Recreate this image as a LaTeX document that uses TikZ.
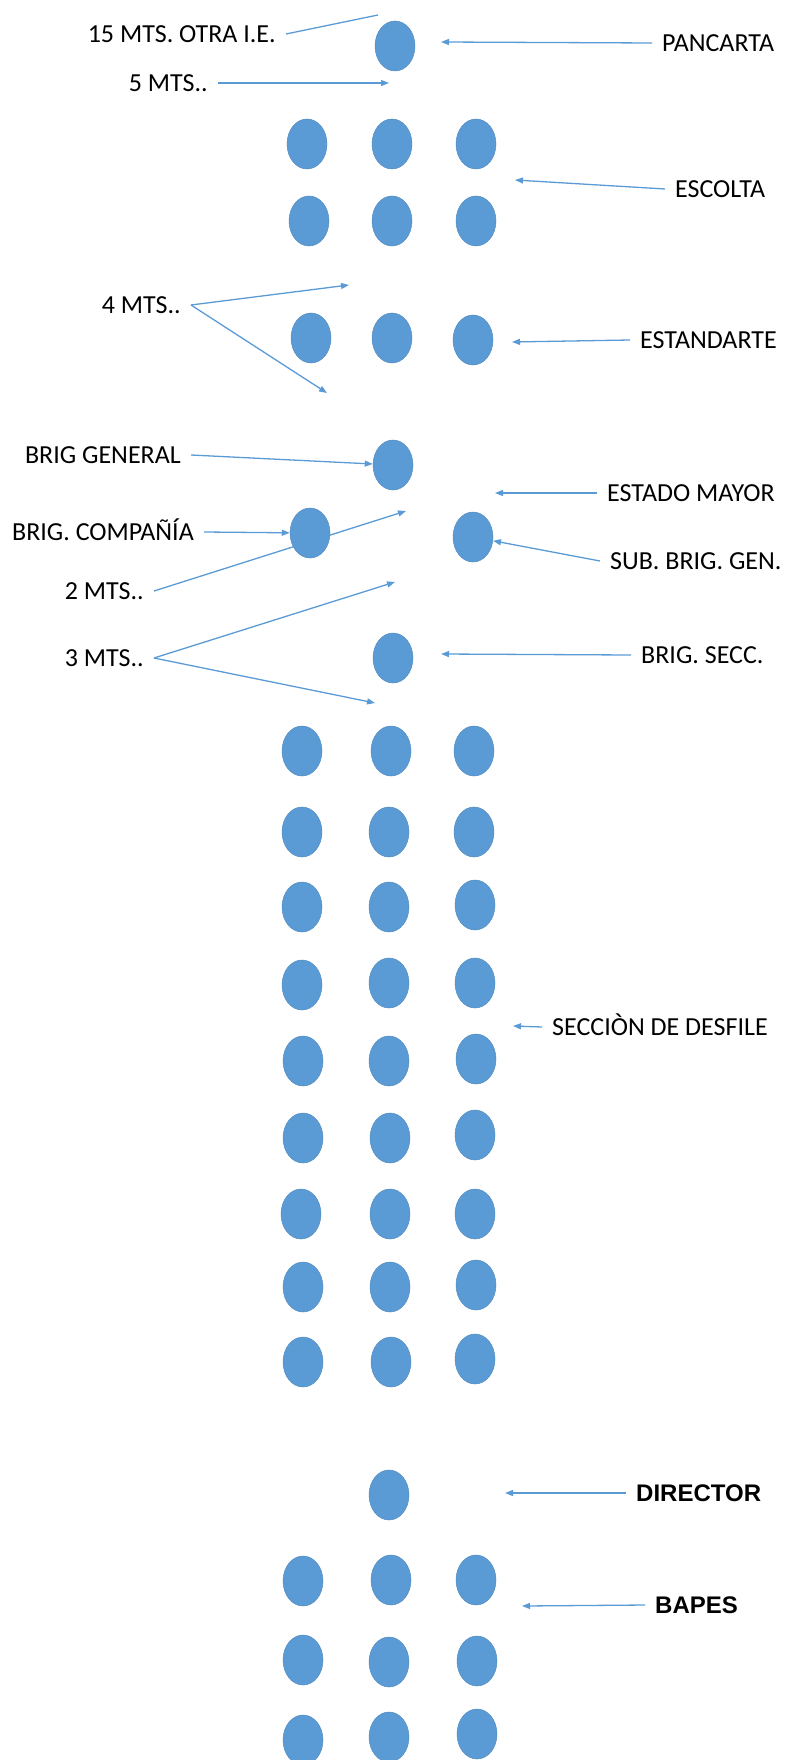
\documentclass[tikz,border=0pt]{standalone}
\usepackage{fontspec}
\setmainfont{Carlito}
\newfontfamily\arialfont{Liberation Sans}
\usetikzlibrary{shapes.geometric,arrows.meta}
\definecolor{dotblue}{HTML}{5B9BD5}
\definecolor{dotline}{HTML}{5B9BD5}
\pgfdeclarelayer{back}
\pgfsetlayers{back,main}

\begin{document}
\begin{tikzpicture}[x=1pt,y=-1pt,
	dot/.style={ellipse,fill=dotblue,draw=dotblue!90!black,line width=0.5pt,
		minimum width=40pt,minimum height=50pt,inner sep=0pt},
	lbl/.style={font=\fontsize{26}{30}\selectfont,text height=16.7pt,text depth=0pt,
		inner ysep=0pt,inner xsep=10pt},
	boldlbl/.style={lbl,font=\arialfont\bfseries\fontsize{24}{30}\selectfont,text height=17pt},
	ptr/.style={color=dotline,line width=1.3pt,-{Triangle[length=8pt,width=6pt]}},
	tie/.style={color=dotline,line width=1.3pt}]

	\useasboundingbox (0,0) rectangle (786,1760);

		% cabeza de la columna
		\node[dot] (pan) at (395,46) {};
		\node[dot] (es1a) at (307,144) {};
		\node[dot] (es1b) at (392,144) {};
		\node[dot] (es1c) at (476,144) {};
		\node[dot] (es2a) at (309,221) {};
		\node[dot] (es2b) at (392,221) {};
		\node[dot] (es2c) at (476,221) {};
		\node[dot] (st1) at (311,338) {};
		\node[dot] (st2) at (392,338) {};
		\node[dot] (st3) at (473,340) {};
		\node[dot] (bg) at (393,465) {};
		\node[dot] (bc) at (310,533) {};
		\node[dot] (sb) at (473,537) {};
		\node[dot] (bs) at (393,658) {};

		% seccion de desfile
		\node[dot] (s1a) at (302,751) {};  \node[dot] (s1b) at (391,751) {};  \node[dot] (s1c) at (474,751) {};
		\node[dot] (s2a) at (302,832) {};  \node[dot] (s2b) at (389,832) {};  \node[dot] (s2c) at (474,832) {};
		\node[dot] (s3a) at (302,907) {};  \node[dot] (s3b) at (389,907) {};  \node[dot] (s3c) at (475,905) {};
		\node[dot] (s4a) at (302,985) {};  \node[dot] (s4b) at (389,983) {};  \node[dot] (s4c) at (475,983) {};
		\node[dot] (s5a) at (303,1061) {}; \node[dot] (s5b) at (389,1061) {}; \node[dot] (s5c) at (476,1059) {};
		\node[dot] (s6a) at (303,1138) {}; \node[dot] (s6b) at (390,1138) {}; \node[dot] (s6c) at (475,1135) {};
		\node[dot] (s7a) at (301,1214) {}; \node[dot] (s7b) at (390,1214) {}; \node[dot] (s7c) at (475,1214) {};
		\node[dot] (s8a) at (303,1287) {}; \node[dot] (s8b) at (390,1287) {}; \node[dot] (s8c) at (476,1285) {};
		\node[dot] (s9a) at (303,1362) {}; \node[dot] (s9b) at (391,1362) {}; \node[dot] (s9c) at (475,1359) {};

		% director y bapes
		\node[dot] (dir) at (389,1495) {};
		\node[dot] (b1a) at (303,1581) {}; \node[dot] (b1b) at (391,1580) {}; \node[dot] (b1c) at (476,1580) {};
		\node[dot] (b2a) at (303,1660) {}; \node[dot] (b2b) at (389,1662) {}; \node[dot] (b2c) at (477,1661) {};
		\node[dot] (b3a) at (303,1740) {}; \node[dot] (b3b) at (389,1737) {}; \node[dot] (b3c) at (477,1734) {};

		% textos
		\node[lbl,anchor=east] (m15) at (286,34) {15 MTS. OTRA I.E.};
		\node[lbl,anchor=east] (m5) at (218,83) {5 MTS..};
		\node[lbl,anchor=east] (m4) at (191,305) {4 MTS..};
		\node[lbl,anchor=east] (lbg) at (191,455) {BRIG GENERAL};
		\node[lbl,anchor=east] (lbc) at (204,532) {BRIG. COMPAÑÍA};
		\node[lbl,anchor=east] (m2) at (154,591) {2 MTS..};
		\node[lbl,anchor=east] (m3) at (154,658) {3 MTS..};
		\node[lbl,anchor=west] (lpan) at (652,43) {PANCARTA};
		\node[lbl,anchor=west] (les) at (665,189) {ESCOLTA};
		\node[lbl,anchor=west] (lst) at (630,340) {ESTANDARTE};
		\node[lbl,anchor=west] (lem) at (597,493) {ESTADO MAYOR};
		\node[lbl,anchor=west] (lsb) at (600,561) {SUB. BRIG. GEN.};
		\node[lbl,anchor=west] (lbs) at (631,655) {BRIG. SECC.};
		\node[lbl,anchor=west] (lsd) at (542,1027) {SECCIÒN DE DESFILE};
		\node[boldlbl,anchor=west] (ldir) at (626,1493) {DIRECTOR};
		\node[boldlbl,anchor=west] (lba) at (645,1605) {BAPES};

		% puntos sueltos
		\coordinate (t15) at (378,15);
		\coordinate (t5) at (389,83);
		\coordinate (tpan) at (441,42);
		\coordinate (tes) at (515,180);
		\coordinate (t4a) at (349,285);
		\coordinate (t4b) at (327,393);
		\coordinate (tst) at (512,342);
		\coordinate (tem) at (495,493);
		\coordinate (t2) at (406,511);
		\coordinate (t3a) at (395,582);
		\coordinate (t3b) at (375,703);
		\coordinate (tbs) at (441,654);
		\coordinate (tsd) at (513,1026);
		\coordinate (tdir) at (505,1493);
		\coordinate (tba) at (522,1606);

	\begin{pgfonlayer}{back}
		\path[tie] (m15.east) edge (t15);
		\path[ptr] (m5.east) edge (t5);
		\path[ptr] (lpan.west) edge (tpan);
		\path[ptr] (les.west) edge (tes);
		\path[ptr] (m4.east) edge (t4a);
		\path[ptr] (m4.east) edge (t4b);
		\path[ptr] (lst.west) edge (tst);
		\path[ptr] (lbg.east) edge (bg);
		\path[ptr] (lem.west) edge (tem);
		\path[ptr] (lbc.east) edge (bc);
		\path[ptr] (lsb.west) edge (sb);
		\path[ptr] (m2.east) edge (t2);
		\path[ptr] (m3.east) edge (t3a);
		\path[ptr] (m3.east) edge (t3b);
		\path[ptr] (lbs.west) edge (tbs);
		\path[ptr] (lsd.west) edge (tsd);
		\path[ptr] (ldir.west) edge (tdir);
		\path[ptr] (lba.west) edge (tba);
	\end{pgfonlayer}
	\end{tikzpicture}
\end{document}
